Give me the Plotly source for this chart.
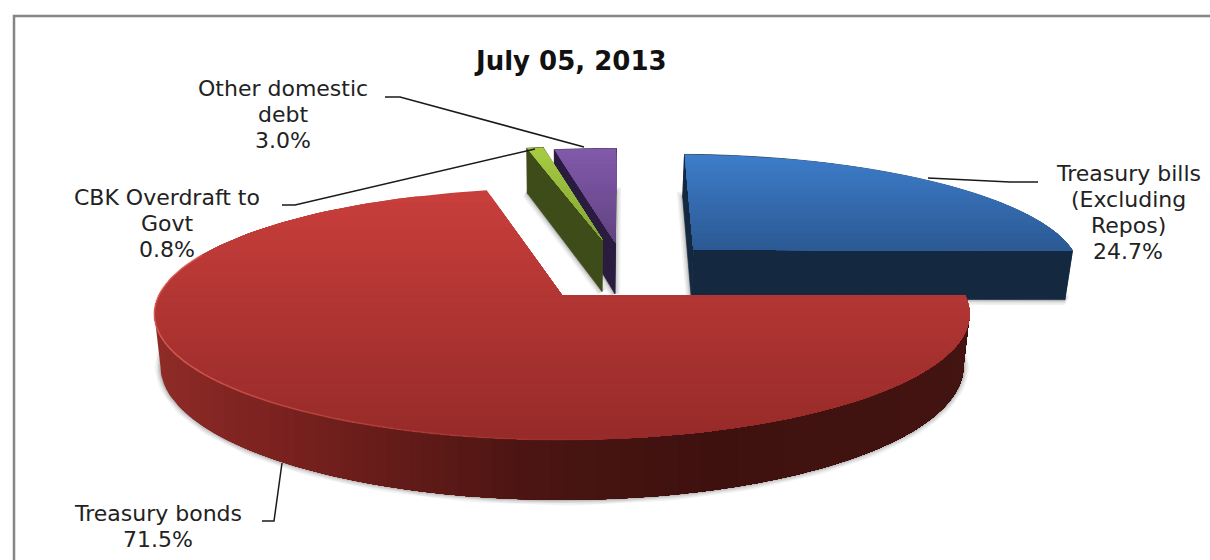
import numpy as np
import plotly.graph_objects as go

# Debt composition, July 05, 2013 (share of total, percent)
title_text = "July 05, 2013"
categories = ["Treasury bills", "Treasury bonds", "CBK Overdraft", "Other domestic debt"]
shares = [24.7, 71.5, 0.8, 3.0]
label_lines = [
    ["Treasury bills", "(Excluding", "Repos)"],
    ["Treasury bonds"],
    ["CBK Overdraft to", "Govt"],
    ["Other domestic", "debt"],
]

# Perspective used to lay the pie disc on the page
CX, CY = 562.0, 295.0
RX, RY = 403.0, 123.0
PERSP = 0.151
DEPTH = 51.0
BASE_SHRINK = 0.985
TWIST = np.radians(1.3)

# Slice styling: how far each slice is pulled out (disc units), radius, wall height factor, colours
slice_style = [
    dict(pull=(0.345, -0.387), radius=0.995, tall=1.02,
         top=("#3d7cc9", "#2c5a94"), wall=[(0, "#14283f"), (1210, "#14283f")]),
    dict(pull=(0.0, 0.0), radius=1.0, tall=1.0,
         top=("#c83e3b", "#962b29"),
         wall=[(150, "#8f2b27"), (280, "#79211f"), (400, "#621b18"),
               (520, "#4b1512"), (700, "#3e110f"), (975, "#431411")]),
    dict(pull=(0.108, -0.4795), radius=1.0, tall=1.08,
         top=("#a6cb42", "#84a636"), wall=[(0, "#3f5019"), (1210, "#3a4816")]),
    dict(pull=(0.142, -0.4516), radius=1.0, tall=1.06,
         top=("#8159aa", "#634382"), wall=[(0, "#2a1c3f"), (1210, "#2a1c3f")]),
]
draw_order = [3, 2, 0, 1]

label_centers = [
    [(1128, 173), (1128, 199), (1128, 225), (1128, 251)],
    [(158, 513), (158, 539)],
    [(167, 197), (167, 223), (167, 249)],
    [(283, 88), (283, 114), (283, 140)],
]
leaders = [
    ([1038, 1010, 928], [182, 182, 178]),
    ([262, 274, 282], [521, 521, 463]),
    ([282, 295, 535], [205, 205, 149]),
    ([385, 400, 584], [97, 97, 147]),
]


def project(X, Y):
    den = 1 - PERSP * np.asarray(Y)
    return CX + RX * np.asarray(X) / den, CY + RY * np.asarray(Y) / den, DEPTH / den


def to_rgb(c):
    return np.array([int(c[i:i + 2], 16) for i in (1, 3, 5)], dtype=float)


def mix(c0, c1, t):
    v = to_rgb(c0) * (1 - t) + to_rgb(c1) * t
    return "rgb(%d,%d,%d)" % tuple(v.round())


def ramp(stops, x):
    xs = [s[0] for s in stops]
    k = int(np.clip(np.searchsorted(xs, x) - 1, 0, len(stops) - 2))
    t = np.clip((x - xs[k]) / (xs[k + 1] - xs[k]), 0, 1)
    return mix(stops[k][1], stops[k + 1][1], t)


def clip_past(pu, pv, limit):
    """Keep the part of a polygon where the first coordinate is >= limit."""
    ou, ov = [], []
    n = len(pu)
    for i in range(n):
        u0, v0, u1, v1 = pu[i], pv[i], pu[(i + 1) % n], pv[(i + 1) % n]
        if u0 >= limit:
            ou.append(u0)
            ov.append(v0)
        if (u0 >= limit) != (u1 >= limit):
            t = (limit - u0) / (u1 - u0)
            ou.append(limit)
            ov.append(v0 + t * (v1 - v0))
    return ou, ov


def poly(fig, x, y, color, width=0.7):
    fig.add_trace(go.Scatter(
        x=list(x) + [x[0]], y=list(y) + [y[0]], mode="lines", fill="toself",
        fillcolor=color, line=dict(color=color, width=width),
        hoverinfo="skip", showlegend=False))


fig = go.Figure()

# Clockwise from twelve o'clock, each slice's sweep comes from its share
edges = np.concatenate([[0.0], np.cumsum(shares)]) / sum(shares) * 2 * np.pi + TWIST
# Where the projected rim is widest: the front wall runs between these two angles
rim_right = np.arccos(-PERSP)
rim_left = 2 * np.pi - rim_right

for idx in draw_order:
    st = slice_style[idx]
    a0, a1 = edges[idx], edges[idx + 1]
    n = max(4, int((a1 - a0) / np.radians(1.5)))
    ang = np.linspace(a0, a1, n)
    dx, dy = st["pull"]
    r = st["radius"]
    X = np.concatenate([[dx], dx + r * np.sin(ang)])
    Y = np.concatenate([[dy], dy - r * np.cos(ang)])
    tx, ty, d = project(X, Y)
    bx = CX + (tx - CX) * BASE_SHRINK
    by = ty + d * st["tall"]

    # Soft drop shadow around the foot of the slice
    for w, alpha in ((11, 0.05), (8, 0.06), (5, 0.08), (2.5, 0.10)):
        fig.add_trace(go.Scatter(
            x=list(bx) + [bx[0]], y=list(by) + [by[0]], mode="lines",
            line=dict(color="rgba(0,0,0,%.2f)" % alpha, width=w),
            hoverinfo="skip", showlegend=False))

    m = len(tx)
    if idx == 1:
        # Front rim wall: horizontal gradient painted as stacked clipped bands
        rim = np.linspace(rim_right, rim_left, 160)
        fx, fy, fd = project(np.sin(rim), -np.cos(rim))
        fbx = CX + (fx - CX) * BASE_SHRINK
        fby = fy + fd
        sil_x = list(fx) + list(fbx[::-1])
        sil_y = list(fy) + list(fby[::-1])
        lo, hi = min(sil_x), max(sil_x)
        steps = 70
        for b in range(steps):
            lim = lo + (hi - lo) * b / steps
            ux, uy = clip_past(sil_x, sil_y, lim)
            if len(ux) >= 3:
                poly(fig, ux, uy, ramp(st["wall"], lim), width=0)
    else:
        # Flat-coloured prism walls, one quad per outline edge
        for i in range(m):
            j = (i + 1) % m
            poly(fig, [tx[i], tx[j], bx[j], bx[i]], [ty[i], ty[j], by[j], by[i]],
                 ramp(st["wall"], 0.5 * (tx[i] + tx[j])))

    # Top face: vertical gradient painted as stacked clipped bands
    y_top, y_bot = ty.min(), ty.max()
    bands = 40 if idx == 1 else 24
    for b in range(bands):
        lim = y_top + (y_bot - y_top) * b / bands
        vy, vx = clip_past(list(ty), list(tx), lim)
        if len(vx) >= 3:
            poly(fig, vx, vy, mix(*st["top"], b / (bands - 1)), width=0)

    # Bright bevel along the front-left rim of the large slice
    if idx == 1:
        for i in range(1, m - 1):
            deg = np.degrees(ang[i - 1])
            if 170 < deg < 290:
                alpha = np.clip((deg - 170) / 70, 0, 1) * 0.7
                fig.add_trace(go.Scatter(
                    x=[tx[i], tx[i + 1]], y=[ty[i], ty[i + 1]], mode="lines",
                    line=dict(color="rgba(226,104,94,%.2f)" % alpha, width=1.6),
                    hoverinfo="skip", showlegend=False))

# Leader lines
for lx, ly in leaders:
    fig.add_trace(go.Scatter(x=lx, y=ly, mode="lines", line=dict(color="#1a1a1a", width=1.5),
                             hoverinfo="skip", showlegend=False))

annotations = [dict(x=570, y=61, text="<b>%s</b>" % title_text, showarrow=False,
                    xref="x", yref="y", font=dict(size=26, color="#111111"))]
for i, lines in enumerate(label_lines):
    texts = lines + ["%.1f%%" % shares[i]]
    for text, (ax, ay) in zip(texts, label_centers[i]):
        annotations.append(dict(x=ax, y=ay, text=text, showarrow=False, xref="x", yref="y",
                                font=dict(size=22, color="#222222")))

fig.update_layout(
    width=1210, height=560, margin=dict(l=0, r=0, t=0, b=0),
    paper_bgcolor="white", plot_bgcolor="white",
    font=dict(family="DejaVu Sans"),
    xaxis=dict(range=[0, 1210], visible=False, fixedrange=True),
    yaxis=dict(range=[560, 0], visible=False, fixedrange=True),
    annotations=annotations,
    # Open frame along the left and top edges
    shapes=[dict(type="path", path="M 14 560 L 14 16 L 1210 16", xref="x", yref="y",
                 line=dict(color="#858585", width=2.5))],
)

fig.write_html("out.html", config=dict(displayModeBar=False))
